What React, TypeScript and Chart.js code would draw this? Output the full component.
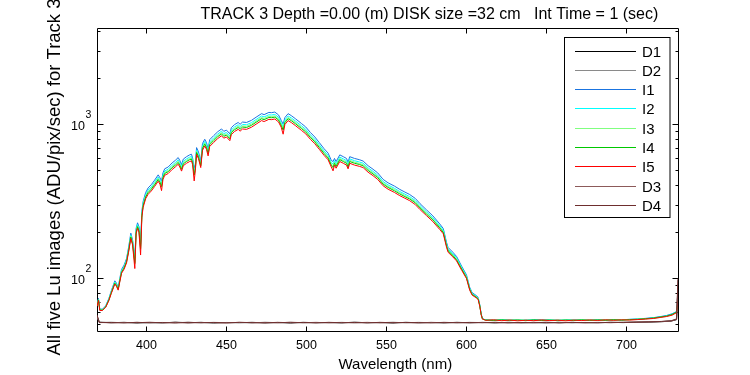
import React, { useEffect, useRef } from 'react';
import { Chart, registerables } from 'chart.js';

Chart.register(...registerables);

// ---------- data ----------
const wl = [
  369.1, 370, 370.8, 372.5, 374.5, 376.5, 378, 379.5, 380.2, 381.2,
  382.3, 383.3, 384.4, 386, 387.5, 388.8, 390.2, 391.3, 392.7, 393.5,
  394.4, 395.3, 396.3, 397.1, 397.9, 399.5, 401, 403, 405, 407.3,
  408.4, 409.4, 410.3, 411.4, 413.5, 416, 418, 419.8, 420.8, 421.9,
  423, 425, 427, 428.1, 428.8, 429.8, 430.5, 431.3, 432.5, 433.9,
  435, 436.4, 437.5, 438.5, 439.5, 442, 444.5, 446.9, 448.3, 450,
  452.1, 453, 455, 457.3, 458.5, 460, 462.5, 465.6, 468.5, 471.9,
  473.5, 476.5, 478, 480.2, 482.5, 484.2, 485.4, 486.5, 488.5, 490.5,
  493, 496.9, 499.5, 502.5, 505.2, 508, 511, 513.5, 515.5, 516.6,
  517.5, 518.5, 520.8, 523, 525, 526, 527, 530, 533, 535.4,
  538.5, 541.6, 544.5, 547.9, 551, 555, 558.3, 561.5, 564.5, 568,
  571, 575, 579, 583.3, 585.5, 587.5, 588.5, 591.5, 593.8, 597,
  600, 602, 603.5, 606, 607.3, 608.3, 609.2, 610, 612, 617,
  622, 627, 632, 637, 642, 647, 652, 657, 662, 667,
  672, 677, 682, 687, 692, 697, 702, 707, 712, 717,
  721, 725, 728.5, 731.3, 732.2,
];

const I1 = [
  67.6, 74.3, 63.2, 63.2, 66.5, 74.3, 83.2, 92.1, 96.6, 93.3,
  87.7, 99.9, 114.4, 122.2, 134.5, 159, 197, 178, 136, 211,
  230, 217, 168, 273, 317, 362, 387, 407, 434, 471,
  451, 430, 485, 516, 529, 563, 585, 610, 585, 549,
  596, 618, 635, 641, 607, 520, 552, 708, 663, 579,
  752, 802, 763, 691, 797, 847, 897, 936, 903, 919,
  869, 953, 998, 1031, 1003, 1037, 1031, 1064, 1115, 1176,
  1159, 1198, 1193, 1204, 1154, 1064, 1005, 1109, 1176, 1142,
  1092, 1014, 964, 886, 830, 763, 696, 652, 585, 575,
  602, 574, 635, 618, 602, 568, 618, 602, 591, 579,
  540, 512, 485, 440, 418, 398, 379, 364, 351, 331,
  306, 279, 255, 226, 211, 172, 159, 148, 139, 120,
  105.5, 87.7, 81, 77.6, 75.4, 67.6, 58.7, 54.8, 53.8, 53.6,
  53.7, 53.9, 53.6, 53.5, 53.8, 53.9, 53.6, 53.8, 53.5, 53.9,
  53.7, 53.6, 53.9, 53.8, 54.1, 53.9, 54.3, 54.6, 55.1, 55.7,
  56.5, 57.5, 59.0, 61.0, 75,
];

const I2 = [
  67.1, 73.5, 62.8, 62.8, 66, 73.5, 82.1, 90.7, 95, 91.8,
  86.4, 98.2, 112.2, 119.7, 131.6, 155, 192, 174, 131, 206,
  224, 211, 162, 265, 308, 351, 375, 394, 421, 456,
  437, 415, 469, 499, 512, 544, 566, 590, 566, 532,
  577, 598, 614, 620, 587, 500, 534, 684, 641, 561,
  727, 776, 738, 668, 770, 819, 867, 905, 872, 888,
  840, 921, 964, 996, 969, 1001, 996, 1028, 1077, 1136,
  1120, 1157, 1152, 1163, 1114, 1028, 970, 1071, 1136, 1103,
  1055, 980, 931, 856, 802, 738, 673, 630, 566, 555,
  582, 555, 614, 598, 582, 550, 598, 582, 571, 561,
  523, 496, 469, 426, 405, 385, 367, 353, 340, 321,
  297, 271, 248, 220, 206, 168, 155, 145, 136, 118,
  103.6, 86.4, 80, 76.7, 74.6, 67.1, 58.5, 54.7, 53.9, 53.5,
  53.8, 53.6, 53.4, 53.9, 53.6, 53.5, 53.9, 53.4, 53.7, 53.9,
  53.5, 53.7, 54.0, 53.6, 53.9, 53.8, 54.2, 54.5, 54.9, 55.5,
  56.3, 57.2, 58.6, 60.8, 74,
];

const I3 = [
  66.7, 73, 62.5, 62.5, 65.7, 73, 81.4, 89.8, 94, 90.9,
  85.6, 97.2, 110.8, 118.2, 129.7, 153, 189, 171, 128, 202,
  220, 207, 158, 260, 302, 344, 367, 386, 412, 447,
  428, 405, 459, 489, 501, 533, 554, 577, 554, 520,
  564, 585, 601, 606, 575, 485, 522, 669, 627, 549,
  711, 759, 722, 654, 753, 801, 848, 885, 853, 869,
  822, 900, 942, 974, 948, 979, 974, 1005, 1053, 1110,
  1095, 1131, 1126, 1137, 1089, 1005, 945, 1047, 1110, 1079,
  1032, 958, 911, 837, 785, 722, 659, 617, 554, 540,
  570, 543, 601, 585, 570, 538, 585, 570, 559, 549,
  512, 486, 459, 417, 396, 378, 360, 346, 333, 315,
  291, 266, 243, 216, 202, 165, 153, 142, 134, 116,
  102.4, 85.6, 79.3, 76.2, 74.1, 66.7, 58.3, 54.6, 53.6, 53.8,
  53.4, 53.9, 53.5, 53.8, 53.3, 53.7, 53.5, 53.9, 53.4, 53.8,
  53.6, 53.9, 53.5, 54.0, 53.7, 54.1, 53.9, 54.4, 54.7, 55.2,
  55.9, 56.8, 58.0, 60.2, 72,
];

const I4 = [
  66.4, 72.6, 62.3, 62.3, 65.4, 72.6, 80.8, 89.1, 93.2, 90.1,
  85, 96.3, 109.7, 116.9, 128.2, 151, 186, 168, 125, 199,
  217, 204, 155, 256, 297, 338, 361, 380, 405, 439,
  421, 395, 452, 481, 493, 524, 544, 567, 544, 511,
  555, 575, 591, 596, 565, 470, 513, 658, 616, 539,
  699, 745, 709, 642, 740, 786, 833, 869, 838, 853,
  807, 884, 925, 956, 931, 962, 956, 987, 1034, 1090,
  1075, 1111, 1106, 1116, 1070, 987, 920, 1028, 1090, 1059,
  1013, 941, 895, 822, 771, 709, 647, 606, 544, 525,
  560, 534, 591, 575, 560, 529, 575, 560, 550, 539,
  503, 477, 452, 410, 390, 371, 354, 340, 328, 310,
  287, 262, 240, 213, 199, 163, 151, 141, 132, 115,
  101, 85, 78.8, 75.7, 73.6, 66.4, 58.2, 54.6, 53.7, 53.4,
  53.9, 53.3, 53.8, 53.2, 53.9, 53.4, 53.7, 53.2, 53.8, 53.3,
  53.9, 53.4, 53.8, 53.5, 54.0, 53.6, 54.1, 54.3, 54.8, 55.4,
  56.2, 57.0, 58.4, 60.5, 73,
];

const I5 = [
  66, 72, 62, 62, 65, 72, 80, 88, 92, 89,
  84, 95, 108, 115, 126, 148, 182, 165, 116, 195,
  212, 200, 142, 250, 290, 330, 352, 370, 395, 428,
  410, 372, 440, 468, 480, 510, 530, 552, 530, 498,
  540, 560, 575, 580, 550, 430, 500, 640, 600, 525,
  680, 725, 690, 625, 720, 765, 810, 845, 815, 830,
  785, 860, 900, 930, 905, 935, 930, 960, 1005, 1060,
  1045, 1080, 1075, 1085, 1040, 960, 865, 1000, 1060, 1030,
  985, 915, 870, 800, 750, 690, 630, 590, 530, 500,
  545, 520, 575, 560, 545, 515, 560, 545, 535, 525,
  490, 465, 440, 400, 380, 362, 345, 332, 320, 302,
  280, 256, 234, 208, 195, 160, 148, 138, 130, 113,
  100, 84, 78, 75, 73, 66, 58, 54.5, 53.5, 53.9,
  53.2, 53.7, 53.1, 53.6, 53.2, 53.8, 53.3, 53.6, 53.1, 53.7,
  53.3, 53.8, 53.4, 53.9, 53.5, 53.9, 53.7, 54.1, 54.5, 55.0,
  55.8, 56.6, 57.8, 60, 72,
];

const wlDark = [
  369.1, 370.5, 378, 386, 394, 402, 410, 418, 426, 434,
  442, 450, 458, 466, 474, 482, 490, 498, 506, 514,
  522, 530, 538, 546, 554, 562, 570, 578, 586, 594,
  602, 610, 618, 626, 634, 642, 650, 658, 666, 674,
  682, 690, 698, 706, 714, 722, 728, 731.3, 732.2,
];

const D1 = [
  57, 52, 51.6, 51.9, 51.4, 51.8, 51.5, 52.0, 51.6, 51.9,
  51.4, 51.8, 51.6, 51.9, 51.5, 51.8, 51.4, 51.9, 51.6, 51.8,
  51.5, 52.0, 51.6, 51.8, 51.4, 51.9, 51.6, 51.8, 51.5, 51.9,
  51.6, 51.8, 51.5, 51.9, 51.6, 51.7, 51.5, 51.9, 51.6, 51.8,
  51.6, 51.9, 51.7, 52.0, 52.1, 52.4, 52.9, 54, 90,
];
const D2 = [
  56, 51.8, 52.0, 51.5, 51.9, 51.4, 51.8, 51.6, 52.0, 51.5,
  51.9, 51.6, 51.8, 51.4, 52.0, 51.6, 51.9, 51.5, 51.8, 51.6,
  51.9, 51.5, 51.8, 51.6, 52.0, 51.5, 51.9, 51.6, 51.8, 51.5,
  51.9, 51.7, 51.9, 51.5, 51.8, 51.6, 52.0, 51.6, 51.9, 51.6,
  51.9, 51.7, 52.0, 52.1, 52.3, 52.6, 53.2, 54.5, 92,
];
const D3 = [
  57, 51.9, 51.5, 51.8, 51.6, 52.0, 51.5, 51.9, 51.4, 51.8,
  51.7, 51.5, 51.9, 51.6, 51.8, 51.5, 52.0, 51.6, 51.9, 51.5,
  51.8, 51.6, 51.9, 51.5, 51.8, 51.7, 51.5, 51.9, 51.6, 51.8,
  51.5, 51.9, 51.6, 51.8, 51.5, 51.9, 51.7, 51.6, 51.9, 51.5,
  51.8, 51.6, 51.9, 52.1, 52.2, 52.5, 53.0, 54.2, 98,
];
const D4 = [
  58, 51.7, 51.8, 51.5, 51.9, 51.6, 51.8, 51.4, 51.9, 51.6,
  51.8, 51.5, 51.9, 51.7, 51.5, 51.9, 51.6, 51.8, 51.5, 51.9,
  51.6, 51.8, 51.5, 51.9, 51.6, 51.8, 51.7, 51.5, 51.9, 51.6,
  51.8, 51.6, 51.9, 51.5, 51.8, 51.6, 51.9, 51.5, 51.8, 51.7,
  51.6, 51.9, 51.8, 52.0, 52.3, 52.6, 53.1, 54.6, 100,
];

const seriesLabels = ['D1', 'D2', 'I1', 'I2', 'I3', 'I4', 'I5', 'D3', 'D4'];
const seriesColors = ['#000000', '#8a8a8a', '#1a74e0', '#00ffff', '#80ff80', '#00c800', '#ff0000', '#8c5a5a', '#6e2e2e'];

const xTicks = [400, 450, 500, 550, 600, 650, 700];
const yMajor = [100, 1000];
const yMajorExp = ['2', '3'];
const yMinor = [50, 60, 70, 80, 90, 200, 300, 400, 500, 600, 700, 800, 900, 2000, 3000, 4000];

const X_MIN = 369.06;
const X_MAX = 732.2;
const Y_MIN = 45.6;
const Y_MAX = 4233;

const titleText = 'TRACK 3 Depth =0.00 (m) DISK size =32 cm   Int Time = 1 (sec)';
const xLabel = 'Wavelength (nm)';
const yLabel = 'All five Lu images (ADU/pix/sec) for Track 3';

const FONT = '"Liberation Sans", Arial, Helvetica, sans-serif';

const framePlugin = {
  id: 'matlabFrame',
  beforeDatasetsDraw(chart: any) {
    const { ctx, chartArea: a } = chart;
    const xs = chart.scales.x;
    const ys = chart.scales.y;
    const L = a.left + 0.5, R = a.right + 0.5, T = a.top + 0.5, B = a.bottom + 0.5;
    ctx.save();
    ctx.strokeStyle = '#000';
    ctx.lineWidth = 1;
    ctx.beginPath();
    ctx.rect(L, T, R - L, B - T);
    for (const v of xTicks) {
      const px = Math.floor(xs.getPixelForValue(v)) + 0.5;
      ctx.moveTo(px, B); ctx.lineTo(px, B - 5);
      ctx.moveTo(px, T); ctx.lineTo(px, T + 5);
    }
    for (const v of yMajor) {
      const py = Math.floor(ys.getPixelForValue(v)) + 0.5;
      ctx.moveTo(L, py); ctx.lineTo(L + 6, py);
      ctx.moveTo(R, py); ctx.lineTo(R - 6, py);
    }
    for (const v of yMinor) {
      const py = Math.floor(ys.getPixelForValue(v)) + 0.5;
      ctx.moveTo(L, py); ctx.lineTo(L + 3, py);
      ctx.moveTo(R, py); ctx.lineTo(R - 3, py);
    }
    ctx.stroke();
    ctx.restore();
  },
  afterDraw(chart: any) {
    const { ctx, chartArea: a } = chart;
    const xs = chart.scales.x;
    const ys = chart.scales.y;
    ctx.save();
    ctx.fillStyle = '#000';
    // x tick labels
    ctx.font = `12.5px ${FONT}`;
    ctx.textAlign = 'center';
    ctx.textBaseline = 'alphabetic';
    for (const v of xTicks) {
      ctx.fillText(String(v), xs.getPixelForValue(v), a.bottom + 17.5);
    }
    // y tick labels (10^n)
    yMajor.forEach((v, i) => {
      const py = ys.getPixelForValue(v);
      ctx.font = `12.5px ${FONT}`;
      ctx.textAlign = 'right';
      ctx.fillText('10', 85, py + 6);
      ctx.font = `10.5px ${FONT}`;
      ctx.textAlign = 'left';
      ctx.fillText(yMajorExp[i], 85.5, py - 6);
    });
    // title
    ctx.font = `16px ${FONT}`;
    ctx.textAlign = 'left';
    ctx.fillText(titleText, 200.5, 18.5);
    // x label
    ctx.font = `15px ${FONT}`;
    ctx.fillText(xLabel, 338.5, 368.5);
    // y label
    ctx.save();
    ctx.translate(60, (a.top + a.bottom) / 2 - 2.5);
    ctx.rotate(-Math.PI / 2);
    ctx.font = `18.5px ${FONT}`;
    ctx.textAlign = 'center';
    ctx.fillText(yLabel, 0, 0);
    ctx.restore();

    // legend
    const bx = 564.5, by = 37.5, bw = 105.5, bh = 180;
    ctx.fillStyle = '#fff';
    ctx.fillRect(bx, by, bw, bh);
    ctx.strokeStyle = '#000';
    ctx.lineWidth = 1;
    ctx.strokeRect(bx, by, bw, bh);
    ctx.font = `15px ${FONT}`;
    ctx.textAlign = 'left';
    chart.data.datasets.forEach((ds: any, i: number) => {
      const cy = Math.floor(51 + i * 19.33) + 0.5;
      ctx.strokeStyle = ds.borderColor;
      ctx.beginPath();
      ctx.moveTo(575, cy);
      ctx.lineTo(636, cy);
      ctx.stroke();
      ctx.fillStyle = '#000';
      ctx.fillText(ds.label, 642, cy + 5.5);
    });
    ctx.restore();
  },
};

export default function App() {
  const ref = useRef<HTMLCanvasElement | null>(null);
  useEffect(() => {
    document.body.style.margin = '0';
    const series = [D1, D2, I1, I2, I3, I4, I5, D3, D4];
    const isDark = [true, true, false, false, false, false, false, true, true];
    const datasets = series.map((arr, i) => {
      const xsArr = isDark[i] ? wlDark : wl;
      return {
        label: seriesLabels[i],
        data: xsArr.map((x, j) => ({ x, y: arr[j] })),
        borderColor: seriesColors[i],
        backgroundColor: seriesColors[i],
        borderWidth: 1,
        pointRadius: 0,
        tension: 0,
        fill: false,
        order: series.length - i,
      };
    });
    const chart = new Chart(ref.current as HTMLCanvasElement, {
      type: 'line',
      data: { datasets },
      options: {
        animation: false,
        responsive: false,
        devicePixelRatio: 1,
        events: [],
        layout: { padding: { left: 97, right: 72, top: 28, bottom: 44 } },
        plugins: {
          legend: { display: false },
          title: { display: false },
          tooltip: { enabled: false },
        },
        scales: {
          x: { type: 'linear', min: X_MIN, max: X_MAX, display: false },
          y: { type: 'logarithmic', min: Y_MIN, max: Y_MAX, display: false },
        },
      },
      plugins: [framePlugin],
    } as any);
    return () => chart.destroy();
  }, []);
  return (
    <div style={{ width: 750, height: 375, background: '#fff' }}>
      <canvas ref={ref} width={750} height={375} style={{ display: 'block' }} />
    </div>
  );
}
